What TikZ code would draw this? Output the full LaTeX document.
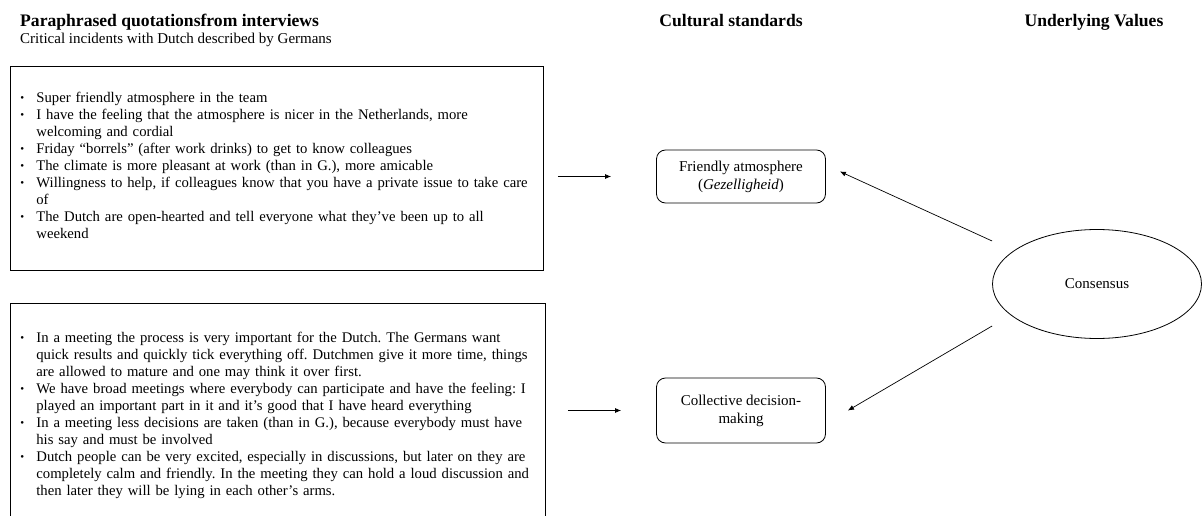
\documentclass[tikz,border=0pt]{standalone}
\usepackage{fontspec}
\setmainfont{Liberation Serif}
\usetikzlibrary{shapes.geometric,arrows.meta}
\frenchspacing
\newcommand{\qitem}{\par\hangindent=16pt\hangafter=1\noindent\makebox[16pt][l]{\raisebox{1pt}{\scalebox{0.75}{\textbullet}}}}
\begin{document}
\begin{tikzpicture}[x=1pt,y=-1pt,
    quotes/.style={draw,line width=0.8pt,anchor=north west,text width=513pt,inner xsep=10pt,align=left,font=\fontsize{14.7}{17}\selectfont},
    standard/.style={draw,line width=0.8pt,rounded corners=9pt,minimum width=169pt,align=center,font=\fontsize{15}{18}\selectfont},
    heading/.style={anchor=base,font=\fontsize{17.6}{20}\selectfont\bfseries},
    link/.style={-{Latex[length=6pt,width=5pt]},line width=0.7pt}]
    \useasboundingbox (0,0) rectangle (1203,516);

    \node[heading,anchor=base west,inner xsep=0pt] (quotehead) at (20,27) {Paraphrased quotationsfrom interviews};
    \node[anchor=base west,inner xsep=0pt,font=\fontsize{15}{17}\selectfont] (quotesub) at (20,44) {Critical incidents with Dutch described by Germans};
    \node[heading] (standhead) at (731,27) {Cultural standards};
    \node[heading] (valuehead) at (1094,27) {Underlying Values};

    \node[quotes,minimum height=204pt] (quotesA) at (10,66) {\vspace*{-12pt}%
        \qitem Super friendly atmosphere in the team
        \qitem I have the feeling that the atmosphere is nicer in the Netherlands, more\newline welcoming and cordial
        \qitem Friday “borrels” (after work drinks) to get to know colleagues
        \qitem The climate is more pleasant at work (than in G.), more amicable
        \qitem Willingness to help, if colleagues know that you have a private issue to take care\newline of
        \qitem The Dutch are open-hearted and tell everyone what they've been up to all\newline weekend\par};
    \node[quotes,text width=515pt,minimum height=218pt] (quotesB) at (10,303) {%
        \qitem In a meeting the process is very important for the Dutch. The Germans want\newline quick results and quickly tick everything off. Dutchmen give it more time, things\newline are allowed to mature and one may think it over first.
        \qitem We have broad meetings where everybody can participate and have the feeling: I\newline played an important part in it and it’s good that I have heard everything
        \qitem In a meeting less decisions are taken (than in G.), because everybody must have\newline his say and must be involved
        \qitem Dutch people can be very excited, especially in discussions, but later on they are\newline completely calm and friendly. In the meeting they can hold a loud discussion and\newline then later they will be lying in each other's arms.\par};

    \node[standard,minimum height=53pt] (friendly) at (741,176.5) {Friendly atmosphere\\(\textit{Gezelligheid})};
    \node[standard,minimum height=65pt] (collective) at (741,410.5) {Collective decision-\\making};
    \node[draw,line width=0.8pt,ellipse,inner sep=0pt,minimum width=209pt,minimum height=109pt,font=\fontsize{15}{17}\selectfont] (consensus) at (1097,284) {Consensus};

    \draw[link,shorten <=14pt,shorten >=45pt] (quotesA.east |- friendly.west) to (friendly.west);
    \draw[link,shorten <=22pt,shorten >=35pt] (quotesB.east |- collective.west) to (collective.west);
    \draw[link] ([yshift=43pt]consensus.west) to ([shift={(14pt,5pt)}]friendly.east);
    \draw[link] ([yshift=-42pt]consensus.west) to ([xshift=22pt]collective.east);
\end{tikzpicture}
\end{document}
